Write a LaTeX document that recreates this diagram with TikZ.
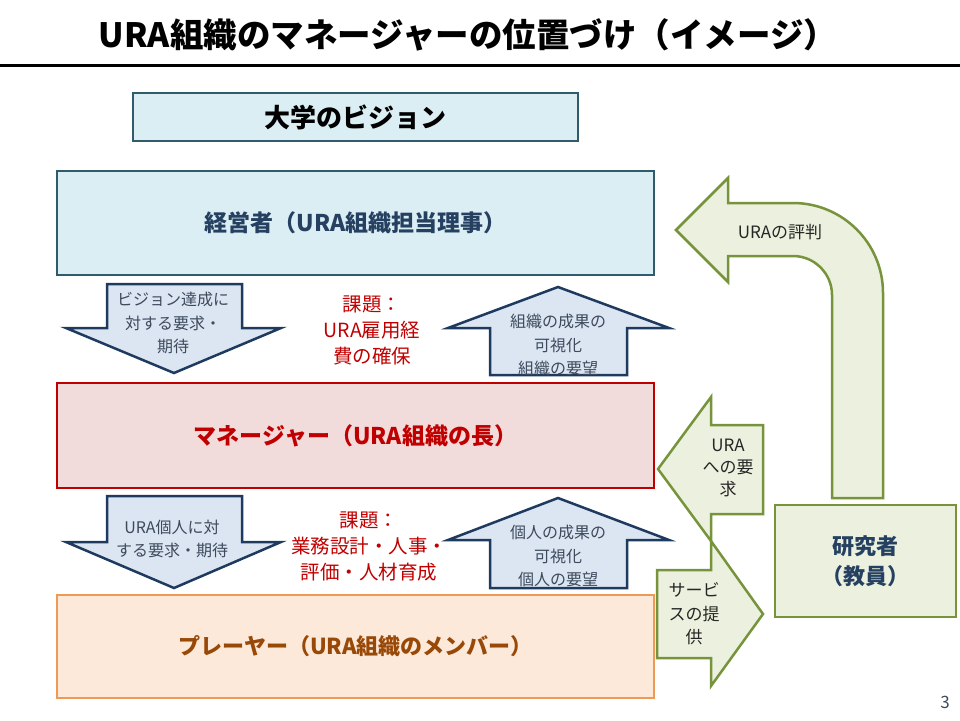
\documentclass[tikz,border=0pt]{standalone}
\usepackage{fontspec}
\setmainfont{Noto Sans CJK JP}
\usepackage{tikz}

\definecolor{visfill}{HTML}{DBEEF4}
\definecolor{visline}{HTML}{2F5B6A}
\definecolor{exectext}{HTML}{254061}
\definecolor{mgrfill}{HTML}{F2DCDB}
\definecolor{mgrline}{HTML}{C00000}
\definecolor{plyfill}{HTML}{FDE9D9}
\definecolor{plyline}{HTML}{EE9A55}
\definecolor{plytext}{HTML}{984807}
\definecolor{arrfill}{HTML}{DCE6F2}
\definecolor{arrline}{HTML}{1F3A5F}
\definecolor{arrtext}{HTML}{3C4A5C}
\definecolor{grnfill}{HTML}{EBF1DE}
\definecolor{grnline}{HTML}{77933C}
\definecolor{grntext}{HTML}{262626}
\newcommand\fsz[2]{\fontsize{#1}{#2}\selectfont}

\begin{document}
\begin{tikzpicture}[x=1pt,y=-1pt,
    box/.style={draw, line width=2.5pt, inner sep=0pt, font=\bfseries\fsz{23}{28}},
    blk/.style={fill=arrfill, draw=arrline, line width=2.5pt},
    grn/.style={fill=grnfill, draw=grnline, line width=2.5pt},
    txt/.style={align=center, inner sep=0pt, text=arrtext, font=\fsz{16}{23.5}},
    kadai/.style={align=center, inner sep=0pt, text=mgrline, font=\fsz{19.5}{26}}]
\useasboundingbox (0,0) rectangle (960,720);

% title
\node (title) at (468,35) [font=\bfseries\fsz{33.5}{38}] {URA組織のマネージャーの位置づけ（イメージ）};
\draw[line width=3pt] (0,65) -- (960,65);

\node (vis) at (355.5,117) [box, fill=visfill, draw=visline, minimum width=445, minimum height=48, font=\bfseries\fsz{26}{30}] {大学のビジョン};

\node (exec) at (355.5,223) [box, fill=visfill, draw=visline, text=exectext, minimum width=597, minimum height=104] {経営者（URA組織担当理事）};
\node (mgr) at (355.5,435.5) [box, fill=mgrfill, draw=mgrline, text=mgrline, minimum width=597, minimum height=105] {マネージャー（URA組織の長）};
\node (ply) at (355.5,646.5) [box, fill=plyfill, draw=plyline, text=plytext, minimum width=597, minimum height=103, font=\bfseries\fsz{22}{26}] {プレーヤー（URA組織のメンバー）};

% exec <-> mgr
\filldraw[blk] (107,284) -- (242,284) -- (242,328) -- (281,328) -- (174,373) -- (66,328) -- (107,328) -- cycle;
	\node (req1) at (173,323) [txt] {ビジョン達成に\\対する要求・\\期待};
\filldraw[blk] (490,375) -- (490,328) -- (448,328) -- (558,287) -- (669,328) -- (627,328) -- (627,375) -- cycle;
	\node (vis1) at (558,345) [txt] {組織の成果の\\可視化\\組織の要望};
\node (kadai1) at (372,330) [kadai] {課題：\\URA雇用経\\費の確保};

% mgr <-> ply
\filldraw[blk] (107,496) -- (242,496) -- (242,542) -- (281,542) -- (174,588) -- (66,542) -- (107,542) -- cycle;
	\node (req2) at (172,539) [txt] {URA個人に対\\する要求・期待};
\filldraw[blk] (490,588) -- (490,540) -- (448,540) -- (558,498) -- (669,540) -- (627,540) -- (627,588) -- cycle;
	\node (vis2) at (558,556) [txt] {個人の成果の\\可視化\\個人の要望};
\node (kadai2) at (369,546) [kadai] {課題：\\業務設計・人事・\\評価・人材育成};

% researcher side
\node (res) at (865.5,561) [box, fill=grnfill, draw=grnline, text=exectext, minimum width=181, minimum height=112, align=center, font=\bfseries\fsz{22}{30}] {研究者\\（教員）};

\filldraw[grn] (832,498) -- (832,295) .. controls (832,273.5) and (814.5,256) .. (793,256) -- (728,256) -- (728,282) -- (676,230) -- (728,178) -- (728,203) -- (793,203) .. controls (842.7,203) and (883,243.3) .. (883,293) -- (883,498) -- cycle;
	\node (fame) at (780,232) [txt, text=grntext, font=\fsz{17}{22}] {URAの評判};
\filldraw[grn] (763,425) -- (711,425) -- (711,397) -- (658,469) -- (711,541) -- (711,514) -- (763,514) -- cycle;
	\node (ask) at (728,468) [txt, text=grntext, font=\fsz{17}{22}] {URA\\への要\\求};
\filldraw[grn] (657,570) -- (711,570) -- (711,541) -- (763,614) -- (711,686) -- (711,658) -- (657,658) -- cycle;
	\node (serv) at (694,614) [txt, text=grntext, font=\fsz{17}{23.5}] {サービ\\スの提\\供};

\node (page) at (945,702) [text=arrtext, font=\fsz{17}{20}] {3};
\end{tikzpicture}
\end{document}
